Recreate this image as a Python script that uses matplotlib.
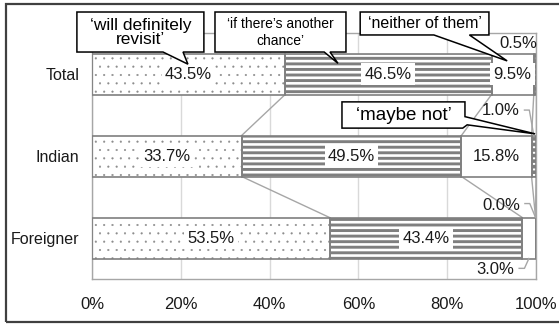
import matplotlib
matplotlib.use('Agg')
import matplotlib.pyplot as plt
import numpy as np
from matplotlib.patches import Polygon, Rectangle

plt.rcParams['font.family'] = ['Liberation Sans', 'DejaVu Sans']

# survey shares (%) per visitor group
groups = ['Total', 'Indian', 'Foreigner']
definitely = [43.5, 33.7, 53.5]
another_chance = [46.5, 49.5, 43.4]
neither = [9.5, 15.8, 3.0]
maybe_not = [0.5, 1.0, 0.0]

series = [definitely, another_chance, neither, maybe_not]
# face, hatch, hatch colour, hatch width
styles = [
    ('white', '..', '#8c8c8c', 0.3),
    ('white', '---', '#7f7f7f', 2.1),
    ('white', '', '#7f7f7f', 1.0),
    ('#7f7f7f', '---', 'white', 1.4),
]

W, H = 559, 324
fig = plt.figure(figsize=(W / 100, H / 100), dpi=100)
ax = fig.add_axes([92 / W, 1 - 279 / H, 444 / W, 246 / H])

y = np.arange(len(groups))
bar_h = 0.5
vals = np.array(series)
left = np.zeros(len(groups))
lefts = []
for data, (face, hatch, hcol, hlw) in zip(series, styles):
    fill = ax.barh(y, data, left=left, height=bar_h, color=face, hatch=hatch or None,
                   edgecolor=hcol, linewidth=0, zorder=2)
    for p in fill:
        if hasattr(p, 'set_hatch_linewidth'):
            p.set_hatch_linewidth(hlw)
    ax.barh(y, data, left=left, height=bar_h, fill=False, edgecolor='#7f7f7f',
            linewidth=1.2, zorder=3)
    lefts.append(left.copy())
    left = left + np.array(data)

# series lines between neighbouring bars
cum = np.cumsum(vals, axis=0)
for k in range(cum.shape[0]):
    for i in range(len(groups) - 1):
        ax.plot([cum[k, i], cum[k, i + 1]], [i + bar_h / 2, i + 1 - bar_h / 2],
                color='#a6a6a6', lw=1, zorder=1)

lab_font = dict(fontsize=12, color='#1a1a1a', zorder=5)
box = dict(boxstyle='square,pad=0.2', fc='white', ec='none')

# labels centred inside the segments
for s in range(3):
    for g in range(len(groups)):
        if s == 2 and g == 2:
            continue
        cx = lefts[s][g] + series[s][g] / 2
        ax.text(cx, g, f'{series[s][g]:.1f}%', ha='center', va='center', bbox=box, **lab_font)

# small segments labelled outside with leader lines
lead = dict(color='#a6a6a6', lw=1, zorder=4, clip_on=False)
ax.text(96.0, -0.37, f'{maybe_not[0]:.1f}%', ha='center', va='center', **lab_font)

ax.text(92.0, 0.44, f'{maybe_not[1]:.1f}%', ha='center', va='center', **lab_font)
ax.plot([97.4, 98.5, lefts[3][1] + maybe_not[1] / 2], [0.44, 0.44, 1 - bar_h / 2], **lead)

ax.text(92.2, 1.60, f'{maybe_not[2]:.1f}%', ha='center', va='center', **lab_font)
ax.plot([97.5, 98.6, lefts[3][2]], [1.58, 1.58, 2 - bar_h / 2], **lead)

ax.text(90.8, 2.38, f'{neither[2]:.1f}%', ha='center', va='center', **lab_font)
ax.plot([96.2, 97.4, lefts[2][2] + neither[2] / 2], [2.37, 2.37, 2 + bar_h / 2], **lead)


def callout(verts, text, cx, cy, size, spacing=1.0):
    ax.add_patch(Polygon(verts, closed=True, fc='white', ec='black', lw=1.1,
                         zorder=6, clip_on=False))
    ax.text(cx, cy, text, ha='center', va='center', fontsize=size, linespacing=spacing,
            color='black', zorder=7, clip_on=False)


callout([(-3.4, -0.756), (25.2, -0.756), (25.2, -0.268), (20.5, -0.268),
         (21.6, -0.12), (16.0, -0.268), (-3.4, -0.268)],
        '\u2018will definitely\nrevisit\u2019', 10.9, -0.51, 12.5, 0.9)
callout([(27.7, -0.756), (57.2, -0.756), (57.2, -0.268), (53.6, -0.268),
         (55.4, -0.13), (52.3, -0.268), (27.7, -0.268)],
        '\u2018if there\u2019s another\nchance\u2019', 42.5, -0.51, 10, 1.25)
callout([(60.4, -0.756), (89.4, -0.756), (89.4, -0.476), (85.0, -0.476),
         (93.5, -0.16), (77.0, -0.476), (60.4, -0.476)],
        '\u2018neither of them\u2019', 74.9, -0.615, 11.5)
callout([(56.3, 0.34), (84.0, 0.34), (84.0, 0.52), (99.8, 0.73),
         (84.5, 0.62), (83.5, 0.66), (56.3, 0.66)],
        '\u2018maybe not\u2019', 70.2, 0.50, 13.5)

ax.set_xlim(0, 100)
ax.set_ylim(len(groups) - 0.5, -0.5)
ax.set_xticks(np.arange(0, 101, 20))
ax.set_xticklabels([f'{t}%' for t in range(0, 101, 20)])
ax.set_yticks(y)
ax.set_yticklabels(groups)
ax.tick_params(axis='x', length=0, pad=13, labelsize=12, labelcolor='#1a1a1a')
ax.tick_params(axis='y', length=0, pad=9, labelsize=11.5, labelcolor='#1a1a1a')
ax.xaxis.grid(True, color='#d9d9d9', lw=1, zorder=0)
ax.set_axisbelow(True)
for sp in ax.spines.values():
    sp.set_color('#a6a6a6')
    sp.set_linewidth(1)

# chart frame, open on the right
fig.patches.append(Rectangle((6 / W, 1 - 322 / H), 1.2, (322 - 4) / H, transform=fig.transFigure,
                             fill=False, ec='#404040', lw=1.6, clip_on=False))

fig.savefig('out.png', dpi=100)
